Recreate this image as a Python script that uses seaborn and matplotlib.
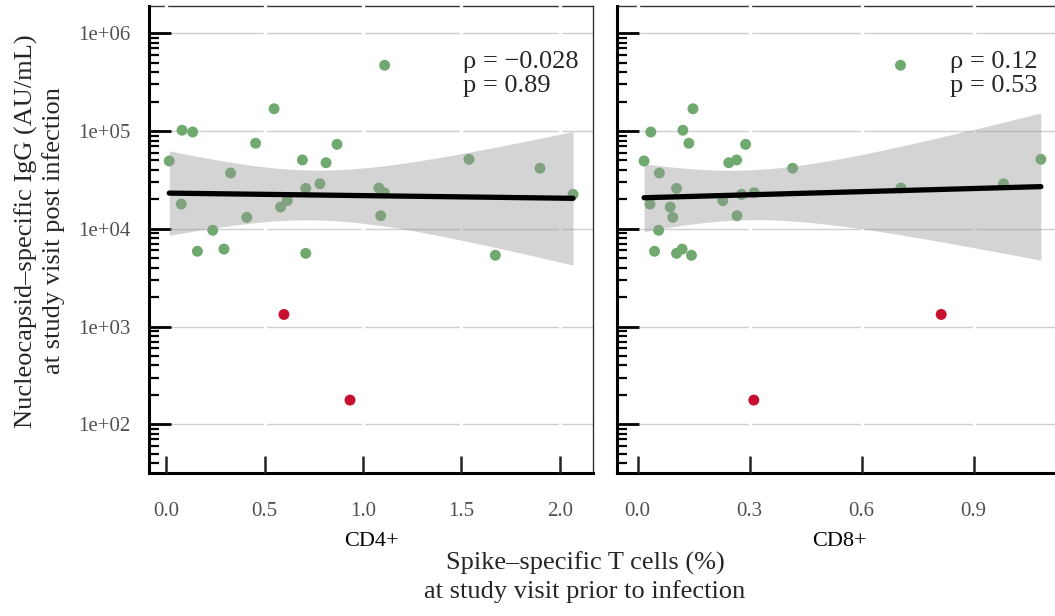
import numpy as np
import pandas as pd
import matplotlib
matplotlib.use("Agg")
import matplotlib.pyplot as plt
import seaborn as sns

# ---- data ----
igg = [49400, 101900, 97700, 17900, 5890, 9660, 6200, 37200, 13100, 75000,
       169000, 16700, 19400, 50600, 25900, 5610, 28900, 47400, 73100, 471000,
       26100, 23400, 13600, 51400, 5360, 41600, 22500, 1330, 177]
cd4 = [0.015, 0.080, 0.134, 0.076, 0.158, 0.236, 0.293, 0.327, 0.409, 0.454,
       0.548, 0.581, 0.615, 0.692, 0.709, 0.709, 0.781, 0.812, 0.868, 1.110,
       1.081, 1.108, 1.090, 1.539, 1.673, 1.900, 2.068, 0.598, 0.934]
cd8 = [0.017, 0.121, 0.035, 0.033, 0.045, 0.056, 0.119, 0.058, 0.094, 0.137,
       0.148, 0.087, 0.228, 0.265, 0.104, 0.104, 0.980, 0.244, 0.289, 0.704,
       0.705, 0.312, 0.266, 1.080, 0.144, 0.415, 0.278, 0.813, 0.311]
status = ["green"] * 27 + ["red"] * 2

panels = ["CD4+", "CD8+"]
rho_labels = ["ρ = −0.028", "ρ = 0.12"]
p_labels = ["p = 0.89", "p = 0.53"]
y_major = [2, 3, 4, 5, 6]
y_major_labels = ["1e+02", "1e+03", "1e+04", "1e+05", "1e+06"]
x_ticks = [[0.0, 0.5, 1.0, 1.5, 2.0], [0.0, 0.3, 0.6, 0.9]]
x_ticklabels = [["0.0", "0.5", "1.0", "1.5", "2.0"], ["0.0", "0.3", "0.6", "0.9"]]

colors = {"green": "#6fa96f", "red": "#c8102e"}

df = pd.DataFrame({"igg": igg, "CD4+": cd4, "CD8+": cd8, "status": status})
df["logy"] = np.log10(df["igg"])

sns.set_style("white", {"xtick.bottom": True, "ytick.left": True})
plt.rcParams["font.family"] = ["Liberation Serif", "DejaVu Serif"]

W, H = 1055, 616
fig = plt.figure(figsize=(W / 100, H / 100), dpi=100)

top_px, bot_px = 6.0, 473.3
panel_px = [(149.0, 593.3), (617.3, 1062.5)]
text_px = [462.7, 950.0]
xlims = [(-0.088, 2.171), (-0.0547, 1.138)]
ylim = (1.499, 6.279)
T_975 = 2.052  # Student t quantile, 27 df (95% CI like geom_smooth)

minor = [np.log10(k * 10 ** d) for d in range(1, 7) for k in range(2, 10)]
minor = [m for m in minor if ylim[0] <= m <= ylim[1]]

for i, name in enumerate(panels):
    l, r = panel_px[i]
    ax = fig.add_axes([l / W, 1 - bot_px / H, (r - l) / W, (bot_px - top_px) / H])
    ax.set_axisbelow(False)
    ax.set_xlim(*xlims[i])
    ax.set_ylim(*ylim)

    # grid
    for yv in y_major:
        ax.axhline(yv, color="#cfcfcf", lw=1.0, zorder=0.5)
    for xv in x_ticks[i]:
        ax.axvline(xv, ymin=0.04, ymax=1.0, color="white", lw=2.4, zorder=0.6,
                   clip_on=False, solid_capstyle="projecting")

    sns.scatterplot(data=df, x=name, y="logy", hue="status", palette=colors,
                    s=62, linewidth=0, legend=False, ax=ax, zorder=3)

    # analytic 95% confidence band of the linear fit (as in ggplot geom_smooth)
    xv_ = df[name].to_numpy()
    yv_ = df["logy"].to_numpy()
    n = len(xv_)
    b, a = np.polyfit(xv_, yv_, 1)
    resid = yv_ - (a + b * xv_)
    s = np.sqrt(np.sum(resid ** 2) / (n - 2))
    xm = xv_.mean()
    sxx = np.sum((xv_ - xm) ** 2)
    xg = np.linspace(xv_.min(), xv_.max(), 200)
    yg = a + b * xg
    se = s * np.sqrt(1.0 / n + (xg - xm) ** 2 / sxx)
    ax.fill_between(xg, yg - T_975 * se, yg + T_975 * se, color="#9a9a9a",
                    alpha=0.42, linewidth=0, zorder=4)

    sns.regplot(data=df, x=name, y="logy", scatter=False, ax=ax, color="black",
                ci=None, line_kws=dict(linewidth=3.8, zorder=5))

    tx = xlims[i][0] + (xlims[i][1] - xlims[i][0]) * (text_px[i] - l) / (r - l)
    ax.text(tx, 5.642, rho_labels[i], fontsize=19, ha="left", va="baseline", zorder=6)
    ax.text(tx, 5.396, p_labels[i], fontsize=19, ha="left", va="baseline", zorder=6)

    # ticks
    ax.set_yticks(y_major)
    ax.set_yticks(minor, minor=True)
    ax.set_xticks(x_ticks[i])
    ax.set_xticklabels(x_ticklabels[i])
    if i == 0:
        ax.set_yticklabels(y_major_labels)
    else:
        ax.set_yticklabels([])
    ax.yaxis.set_tick_params(which="major", direction="in", length=16, width=2.0,
                             color="black", labelsize=15, labelcolor="#505050",
                             pad=13.5, left=True)
    ax.yaxis.set_tick_params(which="minor", direction="in", length=7.5, width=1.6,
                             color="black", left=True)
    ax.xaxis.set_tick_params(which="major", direction="in", length=12, width=1.8,
                             color="#222222", labelsize=15, labelcolor="#505050",
                             pad=20.5, bottom=True, top=False)
    ax.xaxis.set_tick_params(which="minor", bottom=False, top=False)

    ax.set_xlabel(name, fontsize=16, labelpad=8, color="black")
    ax.set_ylabel("")

    for sp in ["left", "bottom"]:
        ax.spines[sp].set_color("black")
        ax.spines[sp].set_linewidth(2.2)
        ax.spines[sp].set_visible(True)
    for sp in ["top", "right"]:
        ax.spines[sp].set_color("#333333")
        ax.spines[sp].set_linewidth(1.0)
        ax.spines[sp].set_visible(True)
    ax.spines["top"].set_zorder(0.55)
    ax.grid(False)

fig.text(585 / W, 1 - 577 / H, "Spike–specific T cells (%)\nat study visit prior to infection",
         ha="center", va="center", fontsize=19, linespacing=1.28)
fig.text(40 / W, 1 - 231 / H, "Nucleocapsid–specific IgG (AU/mL)\nat study visit post infection",
         ha="center", va="center", fontsize=19, rotation=90, linespacing=1.25)

fig.savefig("out.png", dpi=100)
